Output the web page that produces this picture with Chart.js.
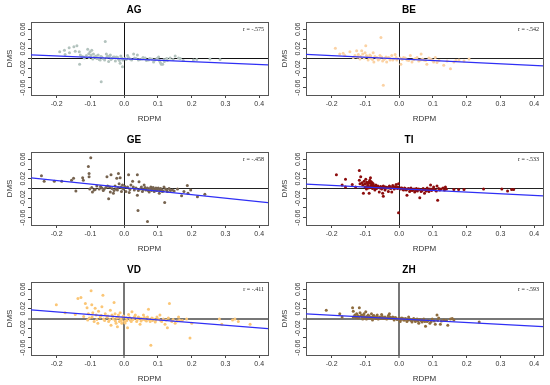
<!DOCTYPE html>
<html lang="en">
<head>
<meta charset="UTF-8">
<title>DMS vs RDPM</title>
<script src="https://cdn.jsdelivr.net/npm/chart.js"></script>
<style>
  body { margin: 0; background: #fff; }
  #wrap { position: relative; width: 550px; height: 385px; }
  #wrap canvas { position: absolute; }
</style>
</head>
<body>
<div id="wrap"></div>
<script>
// panels and their labels
const panels = ['AG', 'BE', 'GE', 'TI', 'VD', 'ZH'];
const rLabels = ['r = -.575', 'r = -.542', 'r = -.458', 'r = -.533', 'r = -.411', 'r = -.593'];

// axes
const xRange = [-0.276, 0.426];
const yRange = [-0.075, 0.075];
const xTicks = [-0.2, -0.1, 0, 0.1, 0.2, 0.3, 0.4];
const yTicks = [-0.06, -0.04, -0.02, 0, 0.02, 0.04, 0.06];
const yLabeled = [-0.06, -0.02, 0.02, 0.06];

// fitted line, value at left and right edge of the x range
const agFit = [0.0076, -0.0131];
const beFit = [0.0083, -0.0152];
const geFit = [0.0220, -0.0290];
const tiFit = [0.0090, -0.0152];
const vdFit = [0.0179, -0.0207];
const zhFit = [0.0097, -0.0166];

// [RDPM, DMS]
const agPoints = [[-0.191,0.014],[-0.177,0.017],[-0.175,0.008],[-0.163,0.022],[-0.162,0.012],[-0.149,0.024],[-0.140,0.026],[-0.145,0.015],[-0.133,0.014],[-0.132,-0.012],[-0.130,0.007],[-0.120,0.003],[-0.108,0.019],[-0.105,0.010],[-0.101,0.014],[-0.098,0.007],[-0.096,0.017],[-0.091,0.009],[-0.086,0.003],[-0.081,0.000],[-0.077,0.007],[-0.071,-0.003],[-0.068,-0.048],[-0.066,0.003],[-0.056,0.035],[-0.053,0.009],[-0.049,0.005],[-0.046,-0.006],[-0.041,0.007],[-0.037,0.000],[-0.032,0.003],[-0.026,-0.005],[-0.022,0.003],[-0.017,-0.001],[-0.012,-0.010],[-0.010,0.005],[-0.005,-0.017],[-0.004,-0.003],[0.003,0.000],[0.010,0.006],[0.018,-0.001],[0.028,0.009],[0.035,0.000],[0.039,0.007],[0.042,-0.003],[0.052,-0.001],[0.062,0.001],[0.072,-0.003],[0.082,-0.001],[0.087,-0.007],[0.097,0.000],[0.102,0.003],[0.107,-0.008],[0.110,-0.012],[0.114,-0.012],[0.119,-0.006],[0.126,0.000],[0.136,0.001],[0.151,0.005],[0.161,0.001],[0.166,0.000],[0.205,-0.003],[0.254,-0.001],[0.284,-0.002],
  [-0.125,0.004],[-0.118,0.001],[-0.112,0.006],[-0.104,0.002],[-0.099,0.004],[-0.093,-0.001],[-0.088,0.003],[-0.083,0.005],[-0.078,0.001],[-0.074,-0.002],[-0.069,0.004],[-0.062,0.000],[-0.058,-0.003],[-0.052,0.002],[-0.044,0.004],[-0.039,-0.002],[-0.034,0.001],[-0.028,0.003],[-0.019,0.002],[-0.014,-0.004],[-0.007,0.001],[0.006,-0.002],[0.013,0.002],[0.022,-0.003],[0.031,0.001],[0.046,-0.002],[0.056,0.002],[0.066,-0.004],[0.076,0.000],[0.091,-0.003],[0.104,-0.004],[0.118,-0.002],[0.128,-0.004],[0.145,-0.002],[0.175,-0.004],[0.215,-0.002]];

const bePoints = [[-0.189,0.021],[-0.176,0.009],[-0.166,0.011],[-0.161,0.006],[-0.146,0.014],[-0.136,0.002],[-0.126,0.016],[-0.121,0.008],[-0.116,-0.001],[-0.111,0.016],[-0.108,0.009],[-0.101,0.012],[-0.099,0.026],[-0.097,0.006],[-0.092,-0.003],[-0.087,0.007],[-0.082,0.000],[-0.077,0.012],[-0.075,-0.007],[-0.067,0.002],[-0.062,-0.003],[-0.057,0.006],[-0.054,0.043],[-0.049,-0.005],[-0.047,-0.055],[-0.042,0.000],[-0.037,-0.007],[-0.032,0.002],[-0.027,-0.003],[-0.022,0.006],[-0.017,-0.001],[-0.012,0.008],[-0.007,-0.003],[0.005,-0.012],[0.013,0.002],[0.023,-0.003],[0.033,0.006],[0.038,-0.007],[0.048,0.000],[0.058,-0.005],[0.065,0.009],[0.073,-0.003],[0.082,-0.012],[0.093,-0.001],[0.102,-0.007],[0.107,0.002],[0.112,-0.008],[0.132,-0.014],[0.152,-0.021],[0.162,-0.007],[0.177,-0.003],[0.192,-0.005],[0.207,-0.001],
  [-0.131,0.006],[-0.123,0.003],[-0.114,0.004],[-0.104,0.001],[-0.094,0.004],[-0.089,0.002],[-0.084,0.005],[-0.079,-0.002],[-0.072,0.004],[-0.065,0.001],[-0.059,-0.001],[-0.052,0.003],[-0.045,-0.002],[-0.039,0.003],[-0.029,0.001],[-0.019,-0.003],[-0.009,0.002],[0.003,0.001],[0.009,-0.002],[0.018,0.001],[0.028,-0.004],[0.043,-0.002],[0.053,0.002],[0.063,-0.003],[0.069,-0.001],[0.078,-0.004],[0.088,0.001],[0.098,-0.003],[0.118,-0.004],[0.142,-0.005],[0.168,-0.004]];

const gePoints = [[-0.245,0.026],[-0.237,0.015],[-0.207,0.015],[-0.185,0.015],[-0.156,0.017],[-0.150,0.021],[-0.143,-0.005],[-0.123,0.022],[-0.121,0.017],[-0.106,0.045],[-0.104,0.031],[-0.104,0.024],[-0.099,0.063],[-0.102,-0.001],[-0.094,-0.007],[-0.089,-0.003],[-0.081,0.005],[-0.074,-0.001],[-0.066,0.001],[-0.059,-0.001],[-0.051,0.024],[-0.049,0.005],[-0.046,-0.021],[-0.041,-0.007],[-0.039,0.028],[-0.036,0.000],[-0.032,-0.010],[-0.027,0.005],[-0.024,-0.001],[-0.022,0.021],[-0.020,-0.003],[-0.017,0.031],[-0.015,0.010],[-0.012,0.022],[-0.010,0.003],[-0.008,-0.006],[-0.005,0.007],[-0.002,-0.001],[0.005,-0.006],[0.010,0.003],[0.013,0.028],[0.015,-0.008],[0.020,0.007],[0.025,0.015],[0.030,-0.003],[0.035,0.001],[0.039,0.028],[0.039,-0.014],[0.041,-0.045],[0.044,0.014],[0.047,-0.001],[0.051,0.003],[0.054,-0.006],[0.059,0.007],[0.064,-0.003],[0.069,-0.068],[0.069,0.001],[0.074,-0.007],[0.079,0.003],[0.084,-0.001],[0.089,-0.006],[0.094,0.001],[0.099,-0.003],[0.104,-0.010],[0.108,0.000],[0.113,-0.006],[0.118,0.003],[0.120,-0.029],[0.123,-0.001],[0.128,-0.006],[0.133,0.000],[0.143,-0.003],[0.158,-0.001],[0.170,-0.015],[0.177,-0.006],[0.187,0.006],[0.189,-0.010],[0.197,-0.003],[0.217,-0.017],[0.239,-0.012],
  [-0.096,0.002],[-0.086,-0.002],[-0.070,0.004],[-0.062,-0.004],[-0.054,0.002],[-0.043,0.003],[-0.030,-0.004],[-0.018,0.002],[-0.006,0.001],[0.002,0.004],[0.017,-0.002],[0.027,0.003],[0.042,-0.004],[0.056,-0.002],[0.062,0.002],[0.071,-0.004],[0.077,0.000],[0.081,-0.004],[0.086,0.002],[0.091,-0.002],[0.096,-0.004],[0.101,0.001],[0.106,-0.003],[0.111,-0.002],[0.116,-0.005],[0.126,-0.003],[0.137,-0.004],[0.148,-0.005]];

const tiPoints = [[-0.186,0.028],[-0.169,0.007],[-0.159,0.019],[-0.159,0.003],[-0.139,0.008],[-0.129,0.003],[-0.118,0.037],[-0.118,0.017],[-0.116,0.010],[-0.114,0.024],[-0.108,0.007],[-0.106,-0.010],[-0.104,0.015],[-0.101,0.003],[-0.099,0.019],[-0.097,-0.001],[-0.094,0.010],[-0.091,0.001],[-0.089,-0.010],[-0.087,0.017],[-0.085,0.022],[-0.082,0.007],[-0.079,0.000],[-0.077,0.010],[-0.074,0.003],[-0.072,-0.003],[-0.069,0.007],[-0.067,0.000],[-0.062,0.003],[-0.059,-0.007],[-0.057,0.001],[-0.052,-0.001],[-0.049,-0.010],[-0.047,-0.016],[-0.045,0.003],[-0.042,-0.003],[-0.037,0.001],[-0.032,-0.006],[-0.029,0.005],[-0.025,0.000],[-0.022,-0.007],[-0.019,0.006],[-0.015,-0.001],[-0.012,0.003],[-0.009,0.008],[-0.005,0.000],[-0.002,-0.050],[-0.002,0.010],[0.003,-0.001],[0.008,0.001],[0.013,-0.003],[0.018,0.000],[0.023,-0.014],[0.025,-0.001],[0.031,-0.006],[0.035,0.001],[0.041,-0.003],[0.046,-0.007],[0.051,0.000],[0.058,-0.001],[0.061,-0.019],[0.065,-0.006],[0.071,0.000],[0.075,-0.010],[0.078,-0.003],[0.083,0.001],[0.088,-0.006],[0.093,0.007],[0.098,-0.001],[0.102,0.003],[0.107,-0.003],[0.112,0.005],[0.114,-0.024],[0.117,0.000],[0.124,-0.001],[0.137,0.003],[0.140,-0.001],[0.162,-0.002],[0.176,-0.002],[0.192,-0.002],[0.250,-0.001],[0.304,-0.001],[0.321,-0.005],[0.333,-0.002],[0.339,-0.002],
  [-0.095,0.004],[-0.092,0.006],[-0.088,0.002],[-0.084,0.005],[-0.080,0.003],[-0.076,0.006],[-0.073,0.001],[-0.070,0.004],[-0.066,0.002],[-0.063,0.005],[-0.060,0.002],[-0.055,0.004],[-0.050,0.002],[-0.047,0.005],[-0.043,0.001],[-0.040,0.003],[-0.035,0.002],[-0.030,0.001],[-0.027,0.003],[-0.021,0.002],[-0.017,0.004],[-0.013,0.001],[-0.008,0.002],[-0.004,0.003],[0.005,0.001],[0.011,-0.002],[0.016,0.001],[0.021,-0.003],[0.028,0.000],[0.033,-0.002],[0.038,-0.004],[0.044,-0.001],[0.049,-0.003],[0.054,-0.005],[0.060,-0.002],[0.068,-0.004],[0.073,-0.002],[0.080,-0.005],[0.086,-0.003],[0.091,-0.001],[0.096,-0.004],[0.104,-0.002],[0.110,-0.005],[0.120,-0.003],[0.130,0.001],[0.134,-0.003],
  [-0.090,0.013],[-0.086,0.011],[-0.083,0.014],[-0.080,0.012],[-0.096,0.013],[-0.110,0.012],[-0.102,0.009]];

const vdPoints = [[-0.201,0.028],[-0.175,0.012],[-0.145,0.008],[-0.137,0.041],[-0.128,0.043],[-0.115,0.031],[-0.110,0.022],[-0.106,0.010],[-0.103,0.001],[-0.098,0.057],[-0.096,0.028],[-0.093,0.012],[-0.089,-0.006],[-0.086,0.021],[-0.083,0.007],[-0.078,-0.010],[-0.076,0.015],[-0.071,0.003],[-0.066,0.024],[-0.063,0.048],[-0.061,-0.001],[-0.056,0.010],[-0.051,0.003],[-0.046,-0.006],[-0.041,0.017],[-0.039,-0.014],[-0.036,0.007],[-0.032,-0.001],[-0.030,0.033],[-0.027,0.010],[-0.024,-0.010],[-0.022,0.001],[-0.020,-0.017],[-0.017,0.007],[-0.014,-0.006],[-0.012,0.012],[-0.010,-0.001],[-0.007,-0.010],[-0.004,0.003],[0.001,-0.006],[0.006,0.001],[0.010,-0.019],[0.013,0.008],[0.018,-0.003],[0.023,0.014],[0.028,0.001],[0.033,0.007],[0.037,-0.006],[0.042,0.003],[0.047,-0.012],[0.052,0.000],[0.057,0.007],[0.062,-0.003],[0.069,0.003],[0.072,0.019],[0.077,-0.006],[0.079,-0.055],[0.082,0.001],[0.087,-0.001],[0.092,-0.007],[0.097,0.003],[0.102,-0.001],[0.106,0.007],[0.111,-0.006],[0.116,-0.001],[0.121,-0.012],[0.128,-0.019],[0.131,0.001],[0.134,0.031],[0.141,-0.006],[0.151,-0.010],[0.161,0.003],[0.164,-0.003],[0.185,-0.001],[0.195,-0.040],[0.200,-0.010],[0.282,-0.001],[0.289,-0.012],[0.321,-0.003],[0.328,-0.001],[0.338,-0.006],[0.373,-0.012],
  [-0.120,0.004],[-0.108,-0.003],[-0.095,0.003],[-0.081,-0.002],[-0.068,0.006],[-0.058,-0.004],[-0.048,0.005],[-0.043,-0.002],[-0.034,0.004],[-0.026,-0.005],[-0.018,0.002],[-0.008,-0.004],[-0.002,0.005],[0.003,-0.009],[0.008,-0.004],[0.016,0.002],[0.021,-0.006],[0.026,-0.002],[0.031,0.004],[0.039,-0.002],[0.045,0.001],[0.050,-0.005],[0.055,-0.002],[0.060,0.002],[0.066,-0.005],[0.074,-0.002],[0.084,-0.004],[0.094,-0.003],[0.108,-0.004],[0.124,-0.003],[0.145,-0.002],[0.157,-0.005],[0.172,-0.004]];

const zhPoints = [[-0.216,0.017],[-0.176,0.010],[-0.169,0.003],[-0.138,0.022],[-0.136,0.015],[-0.136,0.003],[-0.131,0.007],[-0.126,0.010],[-0.121,0.001],[-0.118,0.022],[-0.116,0.012],[-0.111,0.007],[-0.108,-0.001],[-0.104,0.010],[-0.101,0.003],[-0.099,0.014],[-0.097,-0.001],[-0.092,0.007],[-0.087,0.001],[-0.082,0.010],[-0.079,-0.003],[-0.075,0.006],[-0.069,0.000],[-0.065,0.007],[-0.062,-0.001],[-0.057,0.003],[-0.052,0.008],[-0.047,0.000],[-0.042,0.003],[-0.037,-0.001],[-0.032,0.006],[-0.029,0.010],[-0.025,0.000],[-0.019,0.003],[-0.015,-0.003],[-0.009,0.001],[-0.002,-0.001],[0.003,-0.006],[0.008,0.001],[0.013,-0.003],[0.018,0.000],[0.023,-0.006],[0.028,0.003],[0.033,-0.003],[0.038,-0.007],[0.043,0.000],[0.048,-0.006],[0.053,-0.001],[0.058,-0.010],[0.063,-0.003],[0.068,-0.007],[0.073,-0.001],[0.078,-0.016],[0.083,-0.006],[0.091,-0.010],[0.098,-0.001],[0.107,-0.012],[0.112,0.007],[0.117,0.001],[0.122,-0.012],[0.132,-0.003],[0.144,-0.014],[0.152,-0.001],[0.157,0.000],[0.162,-0.003],[0.237,-0.007],
  [-0.133,0.004],[-0.128,0.002],[-0.123,0.006],[-0.119,0.003],[-0.114,0.005],[-0.109,0.002],[-0.106,0.006],[-0.102,0.001],[-0.096,0.004],[-0.094,0.001],[-0.090,0.005],[-0.085,0.003],[-0.080,0.002],[-0.077,0.005],[-0.072,0.002],[-0.067,0.004],[-0.060,0.002],[-0.055,0.000],[-0.050,0.004],[-0.045,0.001],[-0.040,0.000],[-0.034,0.002],[-0.027,0.003],[-0.022,0.001],[-0.012,0.002],[-0.006,-0.002],[0.001,0.001],[0.005,-0.002],[0.011,0.000],[0.016,-0.003],[0.021,-0.001],[0.026,-0.003],[0.031,-0.001],[0.036,-0.004],[0.041,-0.002],[0.046,-0.004],[0.051,-0.003],[0.056,-0.005],[0.061,-0.002],[0.066,-0.005],[0.071,-0.004],[0.076,-0.006],[0.086,-0.004],[0.095,-0.006],[0.104,-0.005],[0.114,-0.004],[0.125,-0.005],[0.140,-0.004]];

const panelPoints = [agPoints, bePoints, gePoints, tiPoints, vdPoints, zhPoints];
const panelFits = [agFit, beFit, geFit, tiFit, vdFit, zhFit];

// styling
const pointColors = ['#b3c3be', '#fbd2a4', '#76634f', '#8c0c0c', '#fbc676', '#8e6c3e'];
const zeroLineColors = ['#111', '#222', '#222', '#222', '#777', '#777'];
const zeroLineWidths = [1, 1, 1, 1, 2, 2];
const fontFamily = "'Liberation Sans', Arial, sans-serif";

Chart.defaults.font.family = fontFamily;
Chart.defaults.font.weight = 'normal';

const rLabelPlugin = {
  id: 'rLabel',
  afterDatasetsDraw(chart, args, opts) {
    const a = chart.chartArea;
    const c = chart.ctx;
    c.save();
    c.font = "6px 'Liberation Serif', serif";
    c.fillStyle = '#222';
    c.textAlign = 'right';
    c.textBaseline = 'middle';
    c.fillText(opts.text, a.right - 4, a.top + 7);
    c.restore();
  }
};

const wrap = document.getElementById('wrap');

function isZero(v) { return Math.abs(v) < 1e-9; }

function makePanel(i) {
  const cv = document.createElement('canvas');
  cv.width = 275;
  cv.height = 125;
  cv.style.left = (i % 2) * 275 + 'px';
  cv.style.top = Math.floor(i / 2) * 130 + 'px';
  wrap.appendChild(cv);

  const zeroGrid = {
    color: ctx => (ctx.tick && isZero(ctx.tick.value)) ? zeroLineColors[i] : 'rgba(0,0,0,0)',
    lineWidth: ctx => (ctx.tick && isZero(ctx.tick.value)) ? zeroLineWidths[i] : 1,
    tickColor: '#444',
    tickLength: 3,
    tickWidth: 1
  };

  return new Chart(cv, {
    type: 'scatter',
    data: {
      datasets: [{
        data: [{x: xRange[0], y: panelFits[i][0]}, {x: xRange[1], y: panelFits[i][1]}],
        showLine: true,
        borderColor: '#2f2ff5',
        borderWidth: 1.3,
        pointRadius: 0,
        order: 0
      }, {
        data: panelPoints[i].map(p => ({x: p[0], y: p[1]})),
        pointRadius: 1.5,
        pointBorderWidth: 0,
        pointBackgroundColor: pointColors[i],
        order: 1
      }]
    },
    options: {
      responsive: false,
      animation: false,
      devicePixelRatio: 1,
      layout: { padding: { left: 0, right: 7, top: 0, bottom: 0 } },
      plugins: {
        legend: { display: false },
        tooltip: { enabled: false },
        title: {
          display: true,
          text: panels[i],
          color: '#000',
          font: { size: 10, weight: 'bold' },
          padding: { top: 4, bottom: 6 }
        },
        rLabel: { text: rLabels[i] }
      },
      scales: {
        x: {
          type: 'linear',
          position: 'bottom',
          min: xRange[0],
          max: xRange[1],
          afterBuildTicks: s => { s.ticks = xTicks.map(v => ({value: v})); },
          afterFit: s => { s.height = 30; },
          ticks: {
            autoSkip: false,
            maxRotation: 0,
            padding: 2,
            color: '#333',
            font: { size: 7, weight: 'normal' },
            callback: v => v.toFixed(1)
          },
          grid: zeroGrid,
          border: { color: '#555', width: 1 },
          title: {
            display: true,
            text: 'RDPM',
            color: '#333',
            font: { size: 8, weight: 'normal' },
            padding: { top: 0, bottom: 1 }
          }
        },
        y: {
          type: 'linear',
          position: 'left',
          min: yRange[0],
          max: yRange[1],
          afterBuildTicks: s => { s.ticks = yTicks.map(v => ({value: v})); },
          afterFit: s => { s.width = 31; },
          ticks: {
            autoSkip: false,
            minRotation: 90,
            maxRotation: 90,
            crossAlign: 'center',
            padding: -3,
            color: '#333',
            font: { size: 7, weight: 'normal' },
            callback: v => yLabeled.some(t => Math.abs(t - v) < 1e-9) ? v.toFixed(2) : ''
          },
          grid: zeroGrid,
          border: { color: '#555', width: 1 },
          title: {
            display: true,
            text: 'DMS',
            color: '#333',
            font: { size: 8, weight: 'normal' },
            padding: { top: 5, bottom: 0 }
          }
        },
        x2: {
          type: 'linear',
          position: 'top',
          min: xRange[0],
          max: xRange[1],
          afterFit: s => { s.height = 0; },
          ticks: { display: false },
          grid: { display: false },
          border: { color: '#555', width: 1 }
        },
        y2: {
          type: 'linear',
          position: 'right',
          min: yRange[0],
          max: yRange[1],
          afterFit: s => { s.width = 0; },
          ticks: { display: false },
          grid: { display: false },
          border: { color: '#555', width: 1 }
        }
      }
    },
    plugins: [rLabelPlugin]
  });
}

panels.forEach((p, i) => makePanel(i));
</script>
</body>
</html>
